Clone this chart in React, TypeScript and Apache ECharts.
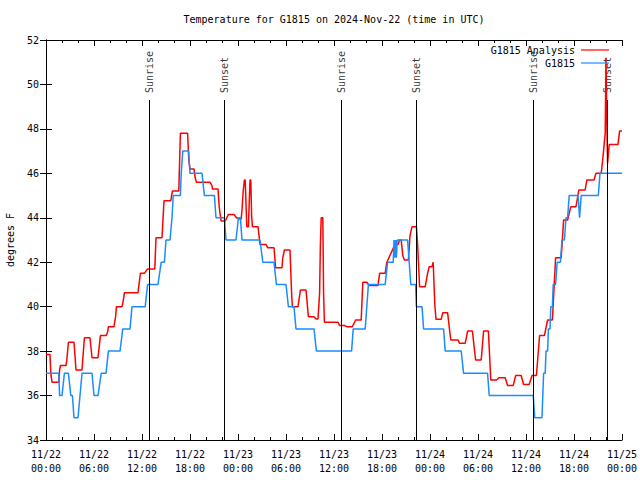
import React, { useEffect, useRef } from "react";
import * as echarts from "echarts";

// Hours since 2024-11-22 00:00 UTC and temperatures (deg F)
const analysisHours = [
  0, 0.5, 0.6, 0.75, 1.6, 1.7, 1.8, 2.5, 2.6, 2.8, 3.5, 3.75, 4.5, 4.8, 5.5, 5.75, 6.5, 6.8, 7.5, 7.7,
  7.8, 8.5, 8.7, 8.8, 9.5, 9.65, 9.8, 11.5, 11.8, 12.3, 12.7, 13.6, 13.75, 14.5, 14.75, 15.6, 15.8, 16.6, 16.8, 17.7,
  17.85, 18.0, 18.5, 18.65, 18.8, 20.5, 20.75, 20.8, 21.5, 21.65, 21.75, 21.9, 22.4, 22.6, 22.8, 23.5, 23.8, 24.2, 24.4, 24.5,
  24.65, 24.8, 24.9, 25.1, 25.3, 25.5, 25.6, 25.7, 25.8, 26.5, 26.75, 27.5, 27.7, 28.5, 28.7, 29.5, 29.6, 29.8, 30.5, 30.7,
  30.8, 31.5, 31.8, 32.5, 32.8, 33.5, 33.75, 34.0, 34.2, 34.3, 34.4, 34.6, 34.7, 34.8, 36.5, 36.7, 37.3, 37.6, 38.3, 38.7,
  39.4, 39.6, 40.1, 40.4, 41.5, 41.7, 42.4, 42.6, 43.5, 43.75, 44.0, 44.2, 44.4, 44.6, 44.8, 45.3, 45.5, 45.75, 46.3, 46.45,
  46.7, 47.4, 47.7, 47.9, 48.25, 48.4, 48.6, 48.75, 49.4, 49.6, 50.2, 50.4, 50.6, 51.5, 51.7, 52.4, 52.7, 53.3, 53.7, 54.4,
  54.7, 55.3, 55.6, 56.3, 56.6, 57.4, 57.7, 58.4, 58.7, 59.4, 59.7, 60.4, 60.75, 61.3, 61.7, 62.3, 62.7, 63.3, 63.7, 64.4,
  64.7, 65.2, 65.6, 66.25, 66.6, 67.4, 67.6, 68.5, 68.75, 69.4, 69.6, 69.9, 70.0, 70.1, 70.2, 70.4, 71.5, 71.7, 72.0,
];
const analysisTemps = [
  37.85, 37.85, 37.0, 36.6, 36.6, 37.15, 37.35, 37.35, 37.6, 38.4, 38.4, 37.15, 37.15, 38.6, 38.6, 37.7, 37.7, 38.7, 38.7, 38.85,
  39.1, 39.1, 39.55, 40.0, 40.0, 40.25, 40.63, 40.63, 41.5, 41.5, 41.7, 41.7, 43.1, 43.1, 44.77, 44.77, 45.2, 45.2, 47.8, 47.8,
  46.6, 46.2, 46.2, 45.8, 45.6, 45.6, 45.45, 45.3, 45.3, 44.5, 44.2, 43.85, 43.85, 44.0, 44.15, 44.15, 44.0, 43.95, 43.95, 44.35,
  45.2, 45.7, 45.7, 43.6, 43.6, 45.7, 45.7, 44.1, 43.6, 43.6, 42.8, 42.8, 42.65, 42.65, 41.75, 41.75, 42.2, 42.55, 42.55, 40.6,
  40.0, 40.0, 40.75, 40.75, 39.55, 39.55, 39.45, 39.45, 40.6, 42.8, 44.0, 44.0, 40.6, 39.3, 39.3, 39.15, 39.15, 39.1, 39.1, 39.4,
  39.4, 41.1, 41.1, 40.95, 40.95, 41.5, 41.5, 42.0, 42.7, 42.8, 42.8, 43.0, 43.0, 42.3, 42.1, 42.1, 43.2, 43.6, 43.6, 42.8,
  40.9, 40.9, 41.5, 41.8, 41.8, 42.0, 40.1, 39.43, 39.43, 39.73, 39.73, 39.1, 38.5, 38.5, 38.35, 38.35, 38.9, 38.9, 37.6, 37.6,
  38.9, 38.9, 36.7, 36.7, 36.8, 36.8, 36.45, 36.45, 36.9, 36.9, 36.5, 36.5, 36.9, 36.9, 38.7, 38.7, 39.4, 39.4, 42.2, 42.2,
  43.9, 43.9, 44.5, 44.5, 45.25, 45.25, 45.7, 45.7, 46.0, 46.0, 46.65, 47.8, 51.2, 48.3, 46.45, 47.3, 47.3, 47.9, 47.9,
];

const stationHours = [
  0, 1.6, 1.7, 2.0, 2.3, 2.8, 3.1, 3.3, 3.5, 4.0, 4.5, 5.75, 6.0, 6.5, 6.9, 7.5, 7.8, 9.25, 9.6, 10.5,
  10.75, 12.4, 12.7, 14.0, 14.4, 14.8, 15.0, 15.5, 15.75, 15.9, 16.8, 16.9, 17.1, 17.83, 18.0, 19.5, 19.8, 21.05, 21.25, 22.3,
  22.5, 23.75, 24.05, 24.3, 24.5, 26.75, 27.1, 28.5, 28.8, 30.0, 30.3, 31.0, 31.25, 33.5, 33.8, 38.2, 38.4, 39.9, 40.3, 42.4,
  42.7, 43.4, 43.5, 43.6, 43.7, 43.8, 43.9, 44.25, 45.2, 45.4, 45.6, 46.2, 46.3, 47.0, 47.2, 49.7, 49.9, 51.9, 52.2, 55.2,
  55.4, 60.9, 61.1, 62.0, 62.2, 62.4, 62.5, 62.7, 62.8, 63.0, 63.1, 63.3, 63.4, 63.7, 63.9, 64.3, 64.5, 64.8, 65.0, 65.2,
  65.4, 66.5, 66.7, 66.9, 69.04, 69.25, 72.0,
];
const stationTemps = [
  37, 37, 36, 36, 37, 37, 36, 36, 35, 35, 37, 37, 36, 36, 37, 37, 38, 38, 39, 39,
  40, 40, 41, 41, 42, 42, 43, 43, 44, 45, 45, 46, 47, 47, 46, 46, 45, 45, 44, 44,
  43, 43, 44, 44, 43, 43, 42, 42, 41, 41, 40, 40, 39, 39, 38, 38, 39, 39, 41, 41,
  42, 42, 43, 42.2, 43, 42.2, 43, 43, 43, 42, 41, 41, 40, 40, 39, 39, 38, 38, 37, 37,
  36, 36, 35, 35, 37, 37, 38, 38, 39, 39, 40, 40, 41, 41, 42, 42, 43, 43, 44, 44,
  45, 45, 44, 45, 45, 46, 46,
];

const sunHours = [12.92, 22.33, 36.92, 46.29, 60.96, 70.2];
const sunNames = ["Sunrise", "Sunset", "Sunrise", "Sunset", "Sunrise", "Sunset"];
const sunLineTop = 49.3;

const xTickLabels = [
  "11/22\n00:00", "11/22\n06:00", "11/22\n12:00", "11/22\n18:00",
  "11/23\n00:00", "11/23\n06:00", "11/23\n12:00", "11/23\n18:00",
  "11/24\n00:00", "11/24\n06:00", "11/24\n12:00", "11/24\n18:00",
  "11/25\n00:00",
];

const FONT = "DejaVu Sans Mono";

const zip = (a: number[], b: number[]) => a.map((t, i) => [t, b[i]]);

export default function App() {
  const ref = useRef<HTMLDivElement>(null);
  useEffect(() => {
    if (!ref.current) return;
    const chart = echarts.init(ref.current, null, { renderer: "svg" });
    const textStyle = { fontFamily: FONT, fontSize: 10, color: "#000" };
    const baseX = {
      type: "value" as const,
      min: 0,
      max: 72,
      interval: 6,
      axisLine: { show: true, lineStyle: { color: "#000", width: 1 } },
      axisTick: { show: true, inside: true, length: 6, lineStyle: { color: "#000" } },
      minorTick: { show: true, splitNumber: 3, length: 3, lineStyle: { color: "#000" } },
      splitLine: { show: false },
    };
    const baseY = {
      type: "value" as const,
      min: 34,
      max: 52,
      interval: 2,
      axisLine: { show: true, lineStyle: { color: "#000", width: 1 } },
      axisTick: { show: true, inside: true, length: 6, lineStyle: { color: "#000" } },
      splitLine: { show: false },
    };
    chart.setOption({
      animation: false,
      backgroundColor: "#fff",
      title: {
        text: "Temperature for G1815 on 2024-Nov-22 (time in UTC)",
        left: 334,
        top: 14,
        padding: 0,
        textAlign: "center",
        textStyle: { ...textStyle, fontWeight: "normal" },
      },
      legend: {
        orient: "vertical",
        right: 31,
        top: 45,
        align: "right",
        icon: "rect",
        itemWidth: 28,
        itemHeight: 1.2,
        itemGap: 3,
        padding: 0,
        textStyle: { ...textStyle, padding: [0, 1, 0, 0] },
        data: ["G1815 Analysis", "G1815"],
      },
      grid: {
        left: 46,
        right: 18,
        top: 40,
        bottom: 40,
        containLabel: false,
        outerBoundsMode: "none",
      },
      xAxis: [
        {
          ...baseX,
          position: "bottom",
          axisLabel: {
            ...textStyle,
            margin: 7,
            lineHeight: 14,
            formatter: (v: number) => xTickLabels[Math.round(v / 6)] ?? "",
          },
        },
        { ...baseX, position: "top", axisLabel: { show: false } },
      ],
      yAxis: [
        {
          ...baseY,
          position: "left",
          name: "degrees F",
          nameLocation: "middle",
          nameRotate: 90,
          nameGap: 31,
          nameTextStyle: { ...textStyle },
          axisLabel: { ...textStyle, margin: 7 },
        },
        { ...baseY, position: "right", axisLabel: { show: false } },
      ],
      series: [
        {
          name: "G1815 Analysis",
          type: "line",
          data: zip(analysisHours, analysisTemps),
          symbol: "none",
          color: "#ff0000",
          lineStyle: { color: "#ff0000", width: 1.5 },
          z: 3,
        },
        {
          name: "G1815",
          type: "line",
          data: zip(stationHours, stationTemps),
          symbol: "none",
          color: "#1a8cff",
          lineStyle: { color: "#1a8cff", width: 1.5 },
          z: 4,
        },
        {
          name: "sun",
          type: "scatter",
          symbolSize: 0,
          data: sunHours.map((h, i) => ({ value: [h, sunLineTop], name: sunNames[i] })),
          label: {
            show: true,
            position: "top",
            distance: 7,
            rotate: 90,
            align: "left",
            verticalAlign: "middle",
            formatter: (p: any) => p.name,
            ...textStyle,
          },
          markLine: {
            silent: true,
            symbol: "none",
            label: { show: false },
            lineStyle: { color: "#000", width: 1, type: "solid" },
            data: sunHours.map((h) => [{ coord: [h, 34] }, { coord: [h, sunLineTop] }]),
          },
          z: 2,
        },
      ],
    });
    return () => chart.dispose();
  }, []);
  return (
    <div
      ref={ref}
      style={{ position: "absolute", left: 0, top: 0, width: 640, height: 480 }}
    />
  );
}
